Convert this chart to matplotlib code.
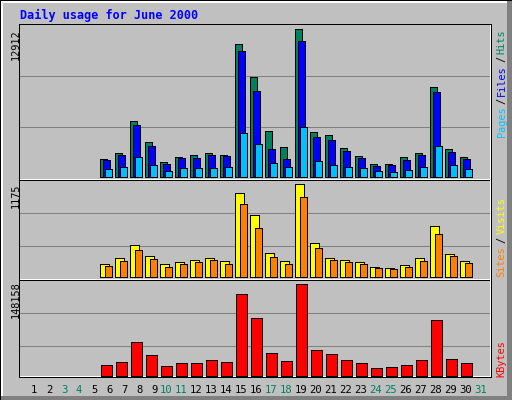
import matplotlib
matplotlib.use("Agg")
import matplotlib.pyplot as plt
from matplotlib.patches import Rectangle
from matplotlib.transforms import blended_transform_factory
import numpy as np

# ---------------- data ----------------
title = "Daily usage for June 2000"
days = [6, 7, 8, 9, 10, 11, 12, 13, 14, 15, 16, 17, 18, 19, 20, 21, 22, 23, 24, 25, 26, 27, 28, 29, 30]
hits = [1519, 2045, 4849, 3038, 1256, 1724, 1899, 2045, 1899, 11627, 8705, 3973, 2600, 12912,
        3914, 3652, 2512, 1811, 1110, 1110, 1724, 2045, 7829, 2425, 1724]
files = [1431, 1899, 4499, 2688, 1110, 1636, 1636, 1899, 1811, 11013, 7508, 2425, 1548, 11890,
         3476, 3213, 2249, 1636, 935, 1022, 1461, 1899, 7391, 2162, 1548]
pages = [672, 847, 1724, 1022, 497, 760, 760, 760, 847, 3827, 2863, 1198, 847, 4353,
         1373, 1022, 847, 760, 497, 409, 584, 847, 2688, 1022, 672]
visits = [156, 232, 397, 258, 156, 182, 207, 232, 194, 1057, 778, 296, 194, 1175,
          423, 232, 207, 182, 118, 106, 144, 232, 638, 283, 194]
sites = [131, 194, 334, 220, 118, 156, 182, 207, 156, 917, 613, 245, 156, 1006,
         359, 207, 182, 156, 106, 93, 118, 194, 537, 258, 169]
kbytes = [16762, 21629, 54072, 32984, 15140, 20007, 20007, 24873, 21629, 131936, 93004, 36228,
          23251, 148158, 41095, 34606, 24873, 20007, 11896, 13518, 16762, 24873, 89760, 26495, 20007]
day_labels = list(range(1, 32))
weekend_days = [3, 4, 10, 11, 17, 18, 24, 25, 31]

# ---------------- colours ----------------
GREY = "#C0C0C0"
DKGREY = "#808080"
C_HITS = "#00805C"
C_FILES = "#0000FF"
C_PAGES = "#00C0FF"
C_VISITS = "#FFFF00"
C_SITES = "#FF8000"
C_KBYTES = "#FF0000"

W, H = 512, 400
fig = plt.figure(figsize=(W / 100, H / 100), dpi=100, facecolor=GREY)
bg = fig.add_axes([0, 0, 1, 1])
bg.set_xlim(0, W)
bg.set_ylim(H, 0)
bg.axis("off")
bg.set_facecolor(GREY)

MONO = "DejaVu Sans Mono"


def hline(y, x0, x1, color, t=1):
    bg.add_patch(Rectangle((x0, y), x1 - x0, t, facecolor=color, lw=0, zorder=1,
                           antialiased=False))


def vline(x, y0, y1, color, t=1):
    bg.add_patch(Rectangle((x, y0), t, y1 - y0, facecolor=color, lw=0, zorder=1,
                           antialiased=False))


# outer frame
hline(0, 0, W, "black")
vline(0, 0, H, "black")
hline(1, 1, 507, "white", 2)
vline(1, 1, 397, "white", 2)
vline(507, 1, H, DKGREY, 5)
hline(396, 1, W, DKGREY, 4)

# panel frame
hline(24, 19, 492, "black", 1)
vline(19, 24, 378, "black", 1)
vline(490, 25, 377, "white")
vline(491, 24, 378, "black")
hline(376, 20, 491, "white")
hline(377, 19, 492, "black")
for r in (179, 279):
    hline(r, 20, 490, "white")
    hline(r + 1, 20, 490, "black")
# grid lines
for r in (76, 127, 213, 246, 313, 346):
    hline(r, 20, 490, DKGREY)

# ---------------- panels ----------------
def px2day(px):
    return (px - 16) / 15.0


def make_panel(top_px, bot_px, base_px, max_px, vmax):
    ax = fig.add_axes([20 / W, 1 - bot_px / H, 471 / W, (bot_px - top_px) / H])
    ax.set_facecolor("none")
    for s in ax.spines.values():
        s.set_visible(False)
    ax.set_xticks([])
    ax.set_yticks([])
    ax.set_xlim(px2day(20), px2day(491))
    s = vmax / (base_px - max_px)
    ax.set_ylim(-(bot_px - base_px) * s, (base_px - top_px) * s)
    return ax


d = np.array(days, dtype=float)
LW = 0.6
kw = dict(edgecolor="black", linewidth=LW, antialiased=False)

ax1 = make_panel(25, 179, 176.67, 29.33, max(hits))
ax1.bar(d - 2.2 / 15, hits, width=7.0 / 15, color=C_HITS, zorder=2, **kw)
ax1.bar(d + 0.0 / 15, files, width=7.0 / 15, color=C_FILES, zorder=3, **kw)
ax1.bar(d + 2.2 / 15, pages, width=7.0 / 15, color=C_PAGES, zorder=4, **kw)

ax2 = make_panel(181, 279, 276.67, 184.0, max(visits))
ax2.bar(d - 1.5 / 15, visits, width=8.5 / 15, color=C_VISITS, zorder=2, **kw)
ax2.bar(d + 2.2 / 15, sites, width=7.2 / 15, color=C_SITES, zorder=3, **kw)

ax3 = make_panel(281, 376.5, 375.67, 284.33, max(kbytes))
ax3.bar(d + 0.5 / 15, kbytes, width=10.5 / 15, color=C_KBYTES, zorder=2, **kw)

# ---------------- texts ----------------
bg.text(19.5, 19.3, title, family=MONO, fontweight="bold", fontsize=8.5,
        color="#0000FF", va="baseline", ha="left", zorder=5)

# max value labels (rotated)
for txt, top in ((str(max(hits)), 29.3), (str(max(visits)), 183.3), (str(max(kbytes)), 281.7)):
    bg.text(18.6, top, txt, family=MONO, fontsize=7.4, color="black", rotation=90,
            rotation_mode="anchor", ha="right", va="baseline", zorder=5)


# right legends
def legend_word(txt, bottom, color):
    bg.text(504.6, bottom, txt, family=MONO, fontsize=7.4, color=color, rotation=90,
            rotation_mode="anchor", ha="left", va="baseline", zorder=5)


def legend_slash(center):
    bg.text(504.6, center, "/", family=MONO, fontsize=7.4, color="black", rotation=90,
            rotation_mode="anchor", ha="center", va="baseline", zorder=5)


legend_word("Pages", 137.2, C_PAGES)
legend_slash(100.8)
legend_word("Files", 95.5, C_FILES)
legend_slash(59.0)
legend_word("Hits", 53.5, C_HITS)

legend_word("Sites", 277.2, C_SITES)
legend_slash(239.7)
legend_word("Visits", 234.5, C_VISITS)

legend_word("KBytes", 377.2, C_KBYTES)

# day labels
tr = blended_transform_factory(ax3.transData, bg.transData)
for dl in day_labels:
    col = C_HITS if dl in weekend_days else "black"
    ax3.text(dl + 6.3 / 15, 392.7, str(dl), transform=tr, family=MONO, fontsize=7.6,
             color=col, ha="right", va="baseline", clip_on=False, zorder=5)

fig.savefig("out.png", dpi=100, facecolor=GREY)
